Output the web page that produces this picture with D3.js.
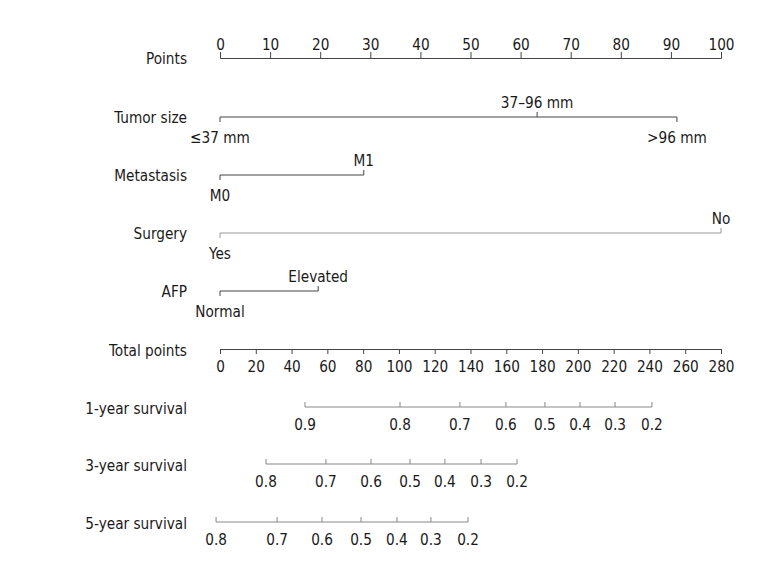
<!DOCTYPE html>
<html>
<head>
    <title>Nomogram</title>
    <script src="https://d3js.org/d3.v7.min.js"></script>
    <style>
        body {
            margin: 0;
            background: #ffffff;
        }
        svg text {
            font-family: 'Liberation Sans Narrow', 'DejaVu Sans Condensed', 'Roboto Condensed', sans-serif;
            font-stretch: condensed;
            font-size: 16.5px;
            fill: #1a1a1a;
        }
    </style>
</head>
<body>
    <div id="chart"></div>

    <script>
        // Points scale ticks
        const pointTicks = [0, 10, 20, 30, 40, 50, 60, 70, 80, 90, 100];
        const totalTicks = [0, 20, 40, 60, 80, 100, 120, 140, 160, 180, 200, 220, 240, 260, 280];

        // Predictor levels and their points
        const tumorLevels = ['≤37 mm', '37–96 mm', '>96 mm'];
        const tumorPoints = [0, 63.3, 91.2];
        const metLevels = ['M0', 'M1'];
        const metPoints = [0, 28.7];
        const surgeryLevels = ['Yes', 'No'];
        const surgeryPoints = [0, 100];
        const afpLevels = ['Normal', 'Elevated'];
        const afpPoints = [0, 19.6];

        // Survival probability axes (position in total points)
        const surv1Probs = ['0.9', '0.8', '0.7', '0.6', '0.5', '0.4', '0.3', '0.2'];
        const surv1Total = [47.5, 100.6, 134.1, 159.8, 181.6, 201.2, 220.8, 241.4];
        const surv3Probs = ['0.8', '0.7', '0.6', '0.5', '0.4', '0.3', '0.2'];
        const surv3Total = [25.7, 59.2, 84.4, 106.2, 125.7, 145.9, 166.0];
        const surv5Probs = ['0.8', '0.7', '0.6', '0.5', '0.4', '0.3', '0.2'];
        const surv5Total = [-2.2, 31.9, 57.0, 78.8, 98.9, 117.9, 138.6];

        const width = 780, height = 580;
        const labelX = 187;

        const svg = d3.select('#chart').append('svg')
            .attr('width', width)
            .attr('height', height);

        const xPts = d3.scaleLinear().domain([0, 100]).range([220, 721]);
        const xTot = d3.scaleLinear().domain([0, 280]).range([220, 721]);

        function rowLabel(text, y) {
            svg.append('text')
                .attr('x', labelX)
                .attr('y', y)
                .attr('dy', '0.35em')
                .attr('text-anchor', 'end')
                .text(text);
        }

        // Points axis
        const yPoints = 58;
        rowLabel('Points', yPoints);
        const gP = svg.append('g').attr('transform', `translate(0,${yPoints})`);
        gP.call(d3.axisTop(xPts).tickValues(d3.range(0, 101, 2)).tickSize(3).tickFormat(''));
        gP.call(d3.axisTop(xPts).tickValues(pointTicks).tickSize(6).tickFormat(d3.format('d')));
        gP.selectAll('.tick text').attr('y', -8).attr('dy', 0).attr('dominant-baseline', 'auto');

        // Categorical predictor rows
        function catRow(name, levels, pts, y, color, sides) {
            rowLabel(name, y);
            const g = svg.append('g');
            g.append('line')
                .attr('x1', xPts(d3.min(pts))).attr('x2', xPts(d3.max(pts)))
                .attr('y1', y).attr('y2', y)
                .attr('stroke', color).attr('stroke-width', 1);
            levels.forEach((lv, i) => {
                const up = sides[i] === 'up';
                g.append('line')
                    .attr('x1', xPts(pts[i])).attr('x2', xPts(pts[i]))
                    .attr('y1', y).attr('y2', up ? y - 5 : y + 5)
                    .attr('stroke', color);
                g.append('text')
                    .attr('x', xPts(pts[i]))
                    .attr('y', up ? y - 15 : y + 20)
                    .attr('dy', '0.35em')
                    .attr('text-anchor', 'middle')
                    .text(lv);
            });
        }

        catRow('Tumor size', tumorLevels, tumorPoints, 117, '#444', ['down', 'up', 'down']);
        catRow('Metastasis', metLevels, metPoints, 175, '#444', ['down', 'up']);
        catRow('Surgery', surgeryLevels, surgeryPoints, 233, '#999', ['down', 'up']);
        catRow('AFP', afpLevels, afpPoints, 291, '#444', ['down', 'up']);

        // Total points axis
        const yTotal = 349;
        rowLabel('Total points', yTotal + 1);
        const gT = svg.append('g').attr('transform', `translate(0,${yTotal})`);
        gT.call(d3.axisBottom(xTot).tickValues(d3.range(0, 281, 4)).tickSize(3).tickFormat(''));
        gT.call(d3.axisBottom(xTot).tickValues(totalTicks).tickSize(5).tickFormat(d3.format('d')));
        gT.selectAll('.tick text').attr('y', 17).attr('dy', '0.35em');

        // Survival axes
        function survRow(name, probs, tot, y) {
            rowLabel(name, y + 1);
            const g = svg.append('g');
            g.append('line')
                .attr('x1', xTot(tot[0])).attr('x2', xTot(tot[tot.length - 1]))
                .attr('y1', y).attr('y2', y)
                .attr('stroke', '#888');
            probs.forEach((p, i) => {
                g.append('line')
                    .attr('x1', xTot(tot[i])).attr('x2', xTot(tot[i]))
                    .attr('y1', y).attr('y2', y - 5)
                    .attr('stroke', '#888');
                g.append('text')
                    .attr('x', xTot(tot[i]))
                    .attr('y', y + 17)
                    .attr('dy', '0.35em')
                    .attr('text-anchor', 'middle')
                    .text(p);
            });
        }

        survRow('1-year survival', surv1Probs, surv1Total, 407);
        survRow('3-year survival', surv3Probs, surv3Total, 464);
        survRow('5-year survival', surv5Probs, surv5Total, 522);

        svg.selectAll('.domain').attr('stroke', '#444');
        svg.selectAll('.tick line').attr('stroke', '#444');

        // narrow the glyphs a little to mimic the condensed face of the original
        svg.selectAll('text').each(function() {
            const w = this.getComputedTextLength();
            if (w > 0) {
                d3.select(this)
                    .attr('textLength', w * 0.92)
                    .attr('lengthAdjust', 'spacingAndGlyphs');
            }
        });
    </script>
</body>
</html>
